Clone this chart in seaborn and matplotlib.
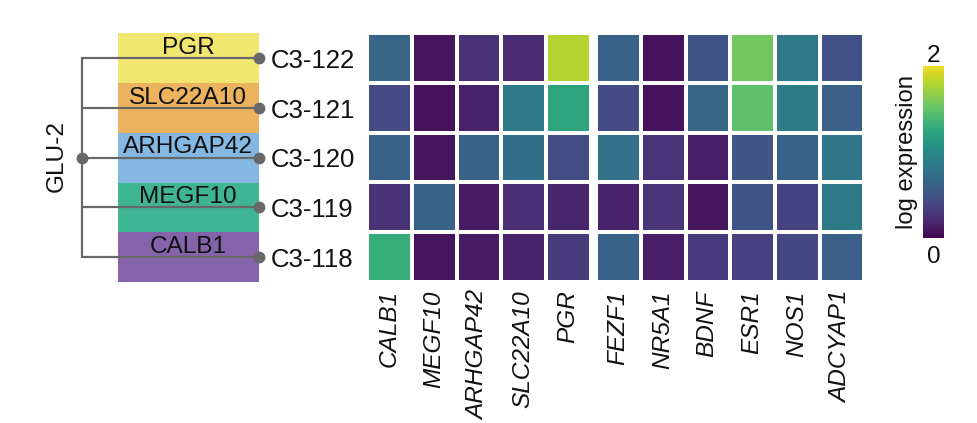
import matplotlib.pyplot as plt
import pandas as pd
import seaborn as sns
from matplotlib.colors import ListedColormap
from matplotlib.transforms import ScaledTranslation, blended_transform_factory

W, H = 977, 423

clusters = ["C3-122", "C3-121", "C3-120", "C3-119", "C3-118"]
band_labels = ["PGR", "SLC22A10", "ARHGAP42", "MEGF10", "CALB1"]
band_colors = ["#f0e56f", "#ecb35f", "#84b8e2", "#3fb594", "#8563ab"]

markers = ["CALB1", "MEGF10", "ARHGAP42", "SLC22A10", "PGR"]
marker_values = [
    [0.66, 0.08, 0.26, 0.20, 1.80],
    [0.42, 0.07, 0.16, 0.84, 1.24],
    [0.62, 0.08, 0.62, 0.74, 0.44],
    [0.26, 0.62, 0.12, 0.24, 0.18],
    [1.30, 0.08, 0.12, 0.16, 0.32],
]

genes = ["FEZF1", "NR5A1", "BDNF", "ESR1", "NOS1", "ADCYAP1"]
gene_values = [
    [0.62, 0.07, 0.50, 1.56, 0.84, 0.48],
    [0.42, 0.07, 0.66, 1.48, 0.88, 0.60],
    [0.76, 0.28, 0.14, 0.52, 0.62, 0.80],
    [0.16, 0.28, 0.09, 0.50, 0.36, 0.84],
    [0.62, 0.14, 0.32, 0.34, 0.40, 0.60],
]


def axes_px(fig, left, top, right, bottom):
    return fig.add_axes([left / W, 1 - bottom / H, (right - left) / W, (bottom - top) / H])


sns.set_theme(style="white")
plt.rcParams["font.family"] = ["Liberation Sans", "DejaVu Sans"]
plt.rcParams["text.color"] = "#111111"
FS = 17.6

fig = plt.figure(figsize=(W / 100, H / 100), dpi=100)

# colour bands on the left, one per cluster
ax_bands = axes_px(fig, 117.5, 33.5, 259, 282)
band_df = pd.DataFrame([[i] for i in range(len(clusters))], index=clusters, columns=["band"])
sns.heatmap(band_df, ax=ax_bands, cmap=ListedColormap(band_colors), cbar=False, xticklabels=False)
ax_bands.set_ylabel("")
ax_bands.yaxis.tick_right()
ax_bands.tick_params(axis="y", length=0, pad=8.6, labelsize=18.5, labelcolor="#111111",
                     labelleft=False, labelright=True, labelrotation=0)

# tree joining the clusters, x in axes fraction and y in row units
tree = blended_transform_factory(ax_bands.transAxes, ax_bands.transData)
TREE_X = -0.25
TREE_GREY = "#686868"
rows = [i + 0.5 for i in range(len(clusters))]
ax_bands.plot([TREE_X, TREE_X], [rows[0], rows[-1]], color=TREE_GREY, lw=1.6, transform=tree,
              clip_on=False, zorder=3)
for row, name in zip(rows, band_labels):
    ax_bands.plot([TREE_X, 1], [row, row], color=TREE_GREY, lw=1.6, transform=tree,
                  clip_on=False, zorder=3)
    ax_bands.plot([1], [row], "o", color=TREE_GREY, ms=7.5, transform=tree, clip_on=False, zorder=4)
    ax_bands.text(0.5, row - 0.21, name, ha="center", va="center", fontsize=FS, transform=tree,
                  color="#111111", zorder=2)
ax_bands.plot([TREE_X], [rows[2]], "o", color=TREE_GREY, ms=7.5, transform=tree, clip_on=False, zorder=4)
ax_bands.text(-0.43, rows[2] - 0.04, "GLU-2", rotation=90, ha="center", va="center", fontsize=FS,
              transform=tree, color="#111111")

# expression heatmaps, slightly washed out viridis
ax_left = axes_px(fig, 367.3, 33, 590.9, 282)
ax_right = axes_px(fig, 596.4, 33, 864.2, 282)
ax_cbar = axes_px(fig, 923, 66, 944, 238)
washed = ListedColormap(sns.color_palette("viridis", 256, desat=0.88))

sns.heatmap(pd.DataFrame(marker_values, index=clusters, columns=markers), ax=ax_left,
            cmap=washed, vmin=0, vmax=2, linewidths=1.5, linecolor="white", cbar=False,
            yticklabels=False)
sns.heatmap(pd.DataFrame(gene_values, index=clusters, columns=genes), ax=ax_right,
            cmap=washed, vmin=0, vmax=2, linewidths=1.5, linecolor="white",
            yticklabels=False, cbar_ax=ax_cbar)

label_shift = ScaledTranslation(-1 / 100, 0, fig.dpi_scale_trans)
for ax in (ax_left, ax_right):
    ax.tick_params(axis="x", length=0, pad=6)
    for label in ax.get_xticklabels():
        label.set_rotation(90)
        label.set_fontsize(FS)
        label.set_fontstyle("italic")
        label.set_color("#111111")
        label.set_transform(label.get_transform() + label_shift)

# colorbar labels
ax_cbar.tick_params(length=0, labelright=False, labelleft=False)
ax_right.collections[0].colorbar.outline.set_visible(False)
ax_cbar.text(0.5, 0.995, "2", ha="center", va="bottom", fontsize=FS, transform=ax_cbar.transAxes)
ax_cbar.text(0.5, -0.048, "0", ha="center", va="top", fontsize=FS, transform=ax_cbar.transAxes)
ax_cbar.text(-0.76, 0.5, "log expression", rotation=90, ha="center", va="center", fontsize=17.2,
             transform=ax_cbar.transAxes)

fig.savefig("out.png", dpi=100)
